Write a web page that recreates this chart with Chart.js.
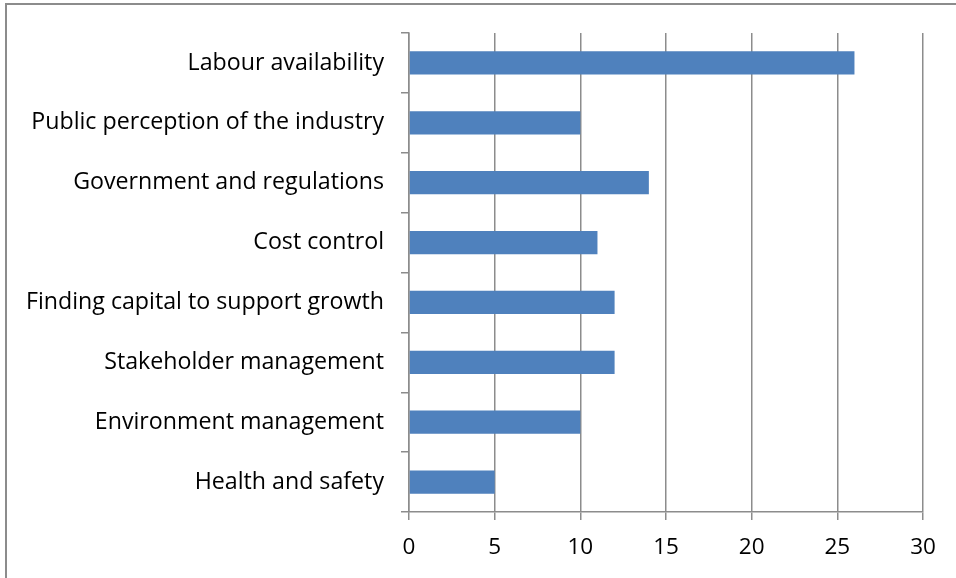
<!DOCTYPE html>
<html>
<head>
<meta charset="utf-8">
<script src="https://cdn.jsdelivr.net/npm/chart.js@4/dist/chart.umd.min.js"></script>
<style>
  html, body { margin: 0; padding: 0; background: #fff; overflow: hidden; }
  #wrap { position: relative; width: 956px; height: 578px; }
  #frame {
    position: absolute; left: 5px; top: 3px; width: 1000px; height: 1000px;
    border-left: 2px solid #8c8c8c; border-top: 2px solid #8c8c8c;
    box-sizing: border-box; pointer-events: none;
  }
  canvas { position: absolute; left: 0; top: 0; }
</style>
</head>
<body>
<div id="wrap">
  <canvas id="chart" width="956" height="578"></canvas>
  <div id="frame"></div>
</div>
<script>
const categories = [
  'Labour availability',
  'Public perception of the industry',
  'Government and regulations',
  'Cost control',
  'Finding capital to support growth',
  'Stakeholder management',
  'Environment management',
  'Health and safety'
];
const values = [26, 10, 14, 11, 12, 12, 10, 5];
const xTicks = [0, 5, 10, 15, 20, 25, 30];

const gridGray = '#8c8c8c';
const family = '"Open Sans", Lato, sans-serif';

new Chart(document.getElementById('chart'), {
  type: 'bar',
  data: {
    labels: categories,
    datasets: [{
      data: values,
      backgroundColor: '#4f81bd',
      borderWidth: 0,
      barPercentage: 1,
      categoryPercentage: 0.39
    }]
  },
  options: {
    indexAxis: 'y',
    responsive: false,
    animation: false,
    layout: { padding: { top: 33, right: 33, left: 0, bottom: 0 } },
    plugins: { legend: { display: false }, tooltip: { enabled: false } },
    scales: {
      x: {
        min: xTicks[0],
        max: xTicks[xTicks.length - 1],
        afterBuildTicks: s => { s.ticks = xTicks.map(v => ({ value: v })); },
        afterFit: s => { s.height = 66; },
        grid: { color: gridGray, lineWidth: 1.5, tickLength: 8 },
        border: { color: gridGray, width: 1.5 },
        ticks: { color: '#000', font: { family: family, size: 22.5 }, padding: 14, maxRotation: 0 }
      },
      y: {
        afterFit: s => { s.width = 409; },
        grid: { drawOnChartArea: false, color: gridGray, lineWidth: 1.5, tickLength: 8 },
        border: { color: gridGray, width: 1.5 },
        ticks: { color: '#000', font: { family: family, size: 23.2 }, padding: 17, autoSkip: false }
      }
    }
  }
});
</script>
</body>
</html>
